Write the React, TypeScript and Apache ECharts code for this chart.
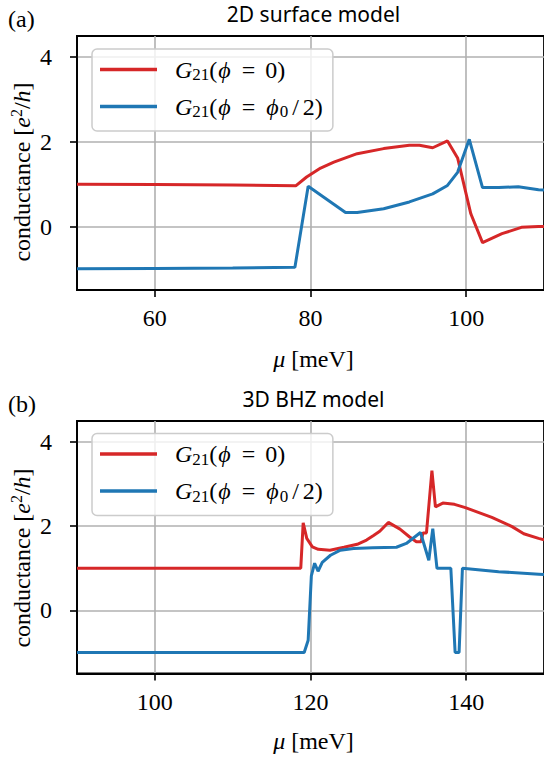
import React, { useEffect, useRef } from 'react';
import * as echarts from 'echarts';

// ---- data ----
const seriesNames = ['G21(φ = 0)', 'G21(φ = φ0/2)'];
const panelTitles = ['2D surface model', '3D BHZ model'];
const panelLabels = ['(a)', '(b)'];

const xTicks2D = [60, 80, 100];
const xTicks3D = [100, 120, 140];
const yTicks = [0, 2, 4];

const mu2DRed = [50, 60, 70, 78.1, 79.5, 81.3, 83.0, 86.0, 89.4, 92.7, 94.0, 95.7, 97.6, 98.9, 100.6, 102.1, 104.6, 107.1, 109.3, 110];
const g2DRed = [1.0, 0.99, 0.98, 0.96, 1.17, 1.38, 1.52, 1.72, 1.84, 1.92, 1.92, 1.86, 2.02, 1.62, 0.30, -0.38, -0.17, -0.02, 0.0, 0.0];

const mu2DBlue = [50, 60, 70, 78.0, 79.7, 84.5, 86.0, 89.4, 92.7, 95.7, 97.6, 98.9, 100.4, 102.1, 104.2, 106.7, 109.3, 110];
const g2DBlue = [-1.0, -0.99, -0.98, -0.96, 0.95, 0.33, 0.33, 0.42, 0.58, 0.77, 0.97, 1.28, 2.06, 0.92, 0.92, 0.94, 0.87, 0.86];

const mu3DRed = [90, 100, 110, 118.75, 119.06, 119.52, 120.24, 121.0, 122.5, 124.3, 126.0, 127.2, 128.1, 128.9, 130.0, 131.5, 132.7, 133.6, 134.2, 134.45, 134.9, 135.6, 136.05, 137.0, 138.5, 139.9, 143.3, 145.9, 147.4, 149.3, 150];
const g3DRed = [1.0, 1.0, 1.0, 1.0, 2.08, 1.71, 1.51, 1.45, 1.43, 1.50, 1.57, 1.67, 1.78, 1.88, 2.09, 1.93, 1.75, 1.63, 1.63, 1.84, 1.84, 3.32, 2.46, 2.55, 2.52, 2.44, 2.21, 1.99, 1.82, 1.71, 1.68];

const mu3DBlue = [90, 100, 110, 119.19, 119.70, 120.11, 120.53, 120.97, 121.51, 122.57, 123.84, 125.54, 128.0, 131.04, 132.31, 134.13, 135.20, 135.71, 136.25, 138.03, 138.58, 139.09, 139.52, 144.17, 149.34, 150];
const g3DBlue = [-1.0, -1.0, -1.0, -1.0, -0.71, 0.82, 1.12, 0.93, 1.14, 1.31, 1.43, 1.47, 1.49, 1.50, 1.59, 1.85, 1.19, 1.94, 1.0, 1.0, -1.0, -1.0, 1.0, 0.92, 0.86, 0.85];

const xRanges = [[50, 110], [90, 150]];
const yRange = [-1.5, 4.5];

// ---- styles ----
const RED = '#d62728';
const BLUE = '#1f77b4';
const SERIF = '"Liberation Serif", "DejaVu Serif", serif';
const SANS = '"Noto Sans", "DejaVu Sans", sans-serif';
const FS = 24;

const grids = [
  { left: 77, top: 36, right: -6, bottom: 470 },
  { left: 77, top: 421, right: -6, bottom: 86.5 },
];

const zip = (xs: number[], ys: number[]) => xs.map((x, i) => [x, ys[i]]);

const mathRich = {
  n: { fontFamily: SERIF, fontSize: FS, lineHeight: 28, color: '#000' },
  i: { fontFamily: SERIF, fontSize: FS, fontStyle: 'italic', lineHeight: 28, color: '#000' },
  f: { fontFamily: SERIF, fontSize: FS, fontStyle: 'italic', lineHeight: 28, padding: [0, 1, 0, 1], color: '#000' },
  q: { fontFamily: SERIF, fontSize: FS, lineHeight: 28, padding: [0, 10, 0, 10], color: '#000' },
  l: { fontFamily: SERIF, fontSize: FS, lineHeight: 28, padding: [0, 4, 0, 4], color: '#000' },
  s: { fontFamily: SERIF, fontSize: 17, lineHeight: 18, padding: [10, 0, 0, 0], color: '#000' },
  p: { fontFamily: SERIF, fontSize: 16, lineHeight: 18, padding: [0, 0, 11, 0], color: '#000' },
};

function legendFormatter(name: string) {
  if (name === seriesNames[0]) return '{i|G}{s|21}{n|(}{f|ϕ}{q|=}{n|0)}';
  return '{i|G}{s|21}{n|(}{f|ϕ}{q|=}{f|ϕ}{s|0}{l|/}{n|2)}';
}

function buildOption() {
  const xTicks = [xTicks2D, xTicks3D];
  const gridOpts = grids.map((g) => ({
    ...g,
    show: true,
    borderColor: '#000',
    borderWidth: 1.8,
    backgroundColor: 'transparent',
    containLabel: false,
  }));
  const xAxes = [0, 1].map((k) => ({
    type: 'value',
    gridIndex: k,
    min: xRanges[k][0],
    max: xRanges[k][1],
    splitNumber: 3,
    axisLine: { show: true, onZero: false, lineStyle: { color: '#000', width: 1.8 } },
    axisTick: { show: true, length: 7, customValues: xTicks[k], lineStyle: { color: '#000', width: 1.6 } },
    axisLabel: {
      customValues: xTicks[k],
      margin: 16,
      color: '#000',
      fontFamily: SERIF,
      fontSize: FS,
    },
    splitLine: { show: true, lineStyle: { color: '#b0b0b0', width: 1.6 } },
  }));
  const yAxes = [0, 1].map((k) => ({
    type: 'value',
    gridIndex: k,
    min: yRange[0],
    max: yRange[1],
    splitNumber: 3,
    axisLine: { show: true, onZero: false, lineStyle: { color: '#000', width: 1.8 } },
    axisTick: { show: true, length: 7, customValues: yTicks, lineStyle: { color: '#000', width: 1.6 } },
    axisLabel: {
      customValues: yTicks,
      margin: 25,
      color: '#000',
      fontFamily: SERIF,
      fontSize: FS,
    },
    splitLine: { show: true, lineStyle: { color: '#b0b0b0', width: 1.6 } },
  }));

  const mkSeries = (name: string, color: string, k: number, data: number[][]) => ({
    type: 'line',
    name,
    xAxisIndex: k,
    yAxisIndex: k,
    data,
    symbol: 'none',
    showSymbol: false,
    lineStyle: { color, width: 3 },
    itemStyle: { color },
    z: 3,
  });

  const series = [
    mkSeries(seriesNames[0], RED, 0, zip(mu2DRed, g2DRed)),
    mkSeries(seriesNames[1], BLUE, 0, zip(mu2DBlue, g2DBlue)),
    mkSeries(seriesNames[0], RED, 1, zip(mu3DRed, g3DRed)),
    mkSeries(seriesNames[1], BLUE, 1, zip(mu3DBlue, g3DBlue)),
  ];

  const legendTops = [49, 433.5];
  const legends = legendTops.map((top) => ({
    orient: 'vertical',
    left: 92,
    top,
    data: seriesNames,
    icon: 'rect',
    itemWidth: 57,
    itemHeight: 3.5,
    itemGap: 10,
    padding: [7, 10, 11, 8],
    backgroundColor: 'rgba(255,255,255,0.8)',
    borderColor: '#cccccc',
    borderWidth: 1.5,
    borderRadius: 5,
    selectedMode: false,
    formatter: legendFormatter,
    textStyle: { fontFamily: SERIF, fontSize: FS, padding: [0, 0, 0, 13], rich: mathRich },
    z: 10,
  }));

  const centerX = 313.5;
  const graphics: any[] = [];
  const yMid = [172, 558];
  const titleY = [14, 399];
  const labelY = [19, 404];
  const xNameY = [359, 741];
  for (let k = 0; k < 2; k++) {
    graphics.push({
      type: 'text', x: centerX, y: titleY[k],
      style: { text: panelTitles[k], font: `21px ${SANS}`, fill: '#000', align: 'center', verticalAlign: 'middle' },
    });
    graphics.push({
      type: 'text', x: 8, y: labelY[k],
      style: { text: panelLabels[k], font: `${FS}px ${SERIF}`, fill: '#000', align: 'left', verticalAlign: 'middle' },
    });
    graphics.push({
      type: 'text', x: 22, y: yMid[k], rotation: Math.PI / 2,
      style: {
        text: '{n|conductance [}{i|e}{p|2}{n|/}{i|h}{n|]}',
        rich: mathRich, align: 'center', verticalAlign: 'middle',
      },
    });
    graphics.push({
      type: 'text', x: centerX, y: xNameY[k],
      style: { text: '{i|μ}{n| [meV]}', rich: mathRich, align: 'center', verticalAlign: 'middle' },
    });
  }

  return {
    animation: false,
    backgroundColor: '#ffffff',
    grid: gridOpts,
    xAxis: xAxes,
    yAxis: yAxes,
    legend: legends,
    series,
    graphic: graphics,
  };
}

export default function App() {
  const ref = useRef<HTMLDivElement>(null);
  useEffect(() => {
    if (!ref.current) return;
    const chart = echarts.init(ref.current, null, { renderer: 'svg' });
    chart.setOption(buildOption() as any);
    return () => chart.dispose();
  }, []);
  return (
    <div
      ref={ref}
      style={{ position: 'absolute', left: 0, top: 0, width: 544, height: 760, background: '#fff' }}
    />
  );
}
